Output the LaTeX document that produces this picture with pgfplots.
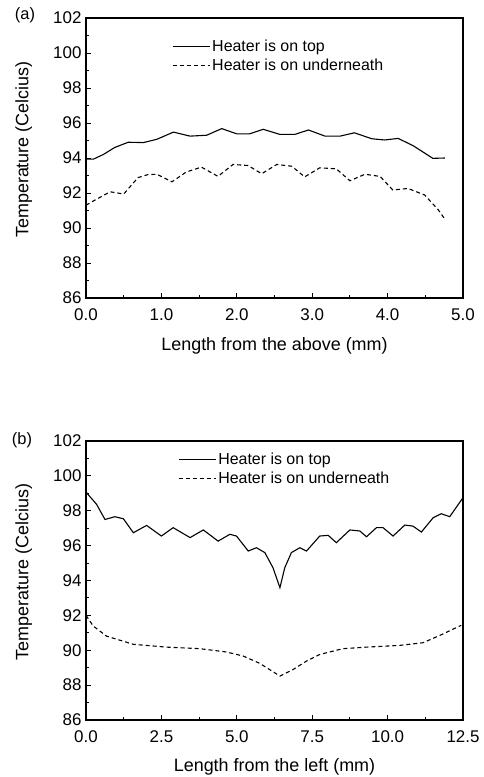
\documentclass[border=0pt]{standalone}
\usepackage{pgfplots}
\pgfplotsset{compat=1.18}
\usepackage{fontspec}
\setmainfont{Liberation Sans}

\pgfplotsset{
 myax/.style={
  scale only axis, width=377bp,
  xmin=0, ymin=86, ymax=102,
  ytick={86,88,...,102}, minor y tick num=1,
  minor x tick num=1,
  tick align=inside, tick pos=left,
  major tick length=5bp, minor tick length=3bp,
  axis line style={line width=1.2bp},
  every tick/.style={line width=0.9bp, black},
  /pgf/number format/assume math mode=true,
  yticklabel style={font=\fontsize{17}{20}\selectfont, xshift=-1bp},
  xticklabel style={font=\fontsize{17}{20}\selectfont, yshift=-7bp, /pgf/number format/.cd, fixed, fixed zerofill, precision=1},
  ylabel={Temperature (Celcius)},
  ylabel style={font=\fontsize{18}{21}\selectfont, at={(axis description cs:-0.165,0.53)}, anchor=center},
  legend style={draw=none, fill=none, anchor=north west, font=\fontsize{16}{19}\selectfont, inner sep=0pt, row sep=2bp, cells={anchor=west}},
  legend image code/.code={\draw[#1] (0bp,0bp) -- (37bp,0bp);},
  every axis plot/.append style={line width=1.1bp, black},
 }
}

\begin{document}
\begin{tikzpicture}
\useasboundingbox (0,0) rectangle (484bp,-777bp);
\node[font=\fontsize{16.5}{19}\selectfont] at (25bp,-15bp) {(a)};
\node[font=\fontsize{16.5}{19}\selectfont] at (22bp,-440bp) {(b)};

\begin{axis}[myax, at={(86bp,-298bp)}, anchor=south west,
  height=280bp, xmax=5, xtick={0,1,...,5},
  xlabel={Length from the above (mm)},
  xlabel style={font=\fontsize{18}{21}\selectfont, at={(axis description cs:0.5,-0.17)}, anchor=center},
  legend style={at={(axis description cs:0.228,0.93)}}]
\addplot[solid] coordinates {
(0.0,93.94) (0.1,93.94) (0.23,94.2) (0.38,94.6) (0.56,94.9) (0.76,94.88)
(0.94,95.07) (1.16,95.48) (1.38,95.25) (1.6,95.3) (1.8,95.68) (2.0,95.38)
(2.17,95.38) (2.35,95.64) (2.57,95.35) (2.77,95.35) (2.95,95.6) (3.17,95.25)
(3.37,95.25) (3.56,95.44) (3.79,95.1) (3.96,95.03) (4.14,95.12) (4.34,94.7)
(4.6,93.98) (4.76,94.0)};
\addlegendentry{Heater is on top}
\addplot[dash pattern=on 4bp off 3bp] coordinates {
(0.0,91.3) (0.1,91.55) (0.32,92.07) (0.5,91.94) (0.69,92.88) (0.82,93.05)
(0.94,93.07) (1.14,92.64) (1.33,93.2) (1.53,93.48) (1.75,92.95) (1.95,93.63)
(2.15,93.57) (2.33,93.1) (2.53,93.63) (2.73,93.53) (2.9,92.92) (3.1,93.44)
(3.32,93.38) (3.5,92.7) (3.7,93.07) (3.9,92.95) (4.07,92.17) (4.27,92.26)
(4.49,91.89) (4.67,91.05) (4.76,90.5)};
\addlegendentry{Heater is on underneath}
\end{axis}

\begin{axis}[myax, at={(86bp,-720bp)}, anchor=south west,
  height=279bp, xmax=12.5, xtick={0,2.5,...,12.5},
  xlabel={Length from the left (mm)},
  xlabel style={font=\fontsize{18}{21}\selectfont, at={(axis description cs:0.5,-0.167)}, anchor=center},
  legend style={at={(axis description cs:0.244,0.964)}}]
\addplot[solid] coordinates {
(0,99.07) (0.35,98.37) (0.63,97.5) (0.96,97.66) (1.24,97.54) (1.57,96.74)
(2.01,97.16) (2.5,96.55) (2.89,97.03) (3.45,96.46) (3.89,96.9) (4.38,96.26)
(4.77,96.65) (4.99,96.55) (5.38,95.69) (5.65,95.88) (5.93,95.6) (6.2,94.73)
(6.43,93.59) (6.59,94.73) (6.81,95.6) (7.09,95.88) (7.31,95.69) (7.75,96.55)
(8.03,96.59) (8.3,96.17) (8.75,96.9) (9.08,96.84) (9.3,96.51) (9.63,97.03)
(9.85,97.03) (10.18,96.55) (10.57,97.18) (10.84,97.12) (11.12,96.78)
(11.51,97.6) (11.78,97.83) (12.06,97.66) (12.5,98.75)};
\addlegendentry{Heater is on top}
\addplot[dash pattern=on 4bp off 3bp] coordinates {
(0,92.0) (0.24,91.39) (0.68,90.81) (1.57,90.34) (2.67,90.18) (3.78,90.09)
(4.66,89.9) (5.21,89.67) (5.76,89.25) (6.43,88.52) (6.87,88.9) (7.31,89.38)
(7.75,89.76) (8.52,90.09) (9.3,90.18) (10.4,90.28) (11.17,90.43) (11.73,90.85)
(12.44,91.43)};
\addlegendentry{Heater is on underneath}
\end{axis}
\end{tikzpicture}
\end{document}
